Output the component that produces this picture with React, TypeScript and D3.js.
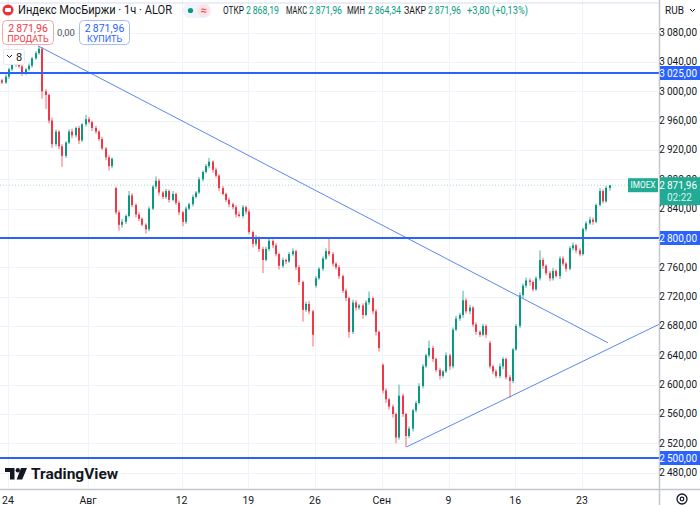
import * as d3 from "d3"

// close of every bar, left to right (~4 bars per trading day)
const closes = [
  3015, 3012, 3020, 3030, 3036, 3040, 3034, 3025, 3030, 3035,
  3045, 3052, 3058, 3000, 2995, 2960, 2928, 2945, 2925, 2912,
  2930, 2945, 2940, 2950, 2933, 2955, 2962, 2958, 2950, 2945,
  2935, 2922, 2910, 2898, 2908, 2835, 2818, 2822, 2830, 2858,
  2845, 2832, 2826, 2818, 2812, 2840, 2870, 2878, 2862, 2856,
  2864, 2852, 2860, 2848, 2835, 2822, 2840, 2846, 2856, 2862,
  2880, 2890, 2898, 2904, 2893, 2885, 2868, 2860, 2852, 2846,
  2842, 2832, 2830, 2842, 2836, 2808, 2792, 2800, 2785, 2770,
  2785, 2796, 2790, 2778, 2762, 2770, 2768, 2778, 2782, 2760,
  2740, 2702, 2710, 2700, 2668, 2745, 2758, 2772, 2782, 2778,
  2765, 2760, 2748, 2728, 2718, 2672, 2712, 2705, 2708, 2695,
  2712, 2718, 2700, 2672, 2650, 2592, 2580, 2570, 2560, 2528,
  2585, 2560, 2530, 2540, 2565, 2575, 2598, 2625, 2640, 2650,
  2635, 2620, 2612, 2618, 2640, 2625, 2675, 2690, 2695, 2715,
  2700, 2705, 2682, 2672, 2668, 2680, 2668, 2625, 2618, 2612,
  2625, 2635, 2610, 2605, 2648, 2680, 2722, 2735, 2742, 2740,
  2730, 2745, 2770, 2762, 2752, 2745, 2755, 2748, 2772, 2765,
  2758, 2786, 2790, 2783, 2778, 2812, 2820, 2825, 2822, 2845,
  2864, 2850, 2868.19, 2871.96,
]

// wick length above / below the body, in points
const upWick = [
  3, 2, 3, 2, 3, 4, 2, 3, 2, 3,
  2, 3, 4, 2, 3, 2, 4, 3, 2, 3,
  2, 3, 4, 2, 3, 2, 6, 3, 2, 3,
  2, 3, 2, 3, 2, 2, 3, 4, 2, 6,
  3, 2, 3, 2, 2, 3, 2, 6, 3, 2,
  3, 2, 4, 2, 3, 2, 3, 2, 3, 2,
  3, 2, 3, 5, 2, 3, 2, 3, 2, 3,
  2, 3, 4, 3, 2, 3, 2, 4, 2, 3,
  3, 4, 2, 3, 2, 3, 2, 3, 4, 2,
  3, 2, 3, 4, 2, 3, 2, 3, 4, 18,
  3, 2, 3, 2, 3, 2, 4, 3, 2, 3,
  3, 9, 2, 3, 2, 2, 3, 2, 3, 2,
  15, 3, 2, 3, 2, 3, 4, 3, 2, 10,
  3, 2, 3, 2, 4, 2, 3, 4, 3, 13,
  3, 4, 2, 3, 2, 3, 2, 3, 2, 3,
  4, 3, 2, 3, 2, 3, 4, 3, 4, 3,
  2, 3, 13, 3, 2, 3, 4, 2, 3, 3,
  2, 3, 4, 2, 3, 2, 3, 4, 3, 2,
  4, 2, 3, 0,
]
const downWick = [
  3, 2, 2, 3, 2, 3, 2, 4, 3, 2,
  3, 2, 2, 10, 19, 4, 5, 3, 4, 15,
  3, 2, 4, 3, 5, 2, 3, 2, 4, 3,
  3, 2, 4, 6, 3, 3, 8, 4, 3, 2,
  3, 4, 3, 2, 6, 3, 2, 3, 4, 3,
  3, 4, 2, 3, 4, 6, 3, 2, 3, 2,
  2, 3, 2, 3, 4, 3, 4, 2, 3, 4,
  3, 4, 2, 3, 4, 3, 5, 3, 4, 18,
  2, 3, 4, 3, 5, 3, 4, 2, 3, 4,
  4, 16, 3, 4, 16, 3, 2, 3, 2, 3,
  4, 3, 4, 3, 4, 8, 3, 4, 3, 5,
  2, 3, 4, 5, 5, 4, 5, 4, 5, 8,
  3, 4, 15, 3, 4, 3, 2, 3, 2, 3,
  4, 3, 5, 3, 2, 5, 3, 2, 3, 4,
  3, 4, 3, 4, 3, 2, 4, 3, 4, 3,
  3, 4, 3, 23, 3, 2, 3, 4, 3, 5,
  3, 2, 3, 4, 3, 4, 3, 2, 4, 3,
  4, 2, 3, 4, 3, 2, 3, 2, 4, 2,
  2, 3, 2, 3.85,
]

const firstOpen = 3010
// bars that opened with a gap
const gapIndex = [35, 95, 115, 147]
const gapOpen = [2868, 2735, 2627, 2657]

const priceTicks = [2480, 2520, 2560, 2600, 2640, 2680, 2720, 2760, 2800, 2840, 2880, 2920, 2960, 3000, 3040, 3080]
const dayTicks = [3, 27, 55, 75, 95, 115, 135, 155, 175]
const dayLabels = ["24", "Авг", "12", "19", "26", "Сен", "9", "16", "23"]

const levels = [3025, 2800, 2500]
// trend lines: [bar index, price]
const trendDown = [[12, 3062], [182.8, 2657]]
const trendUp = [[122.4, 2515], [198.4, 2683]]

const ohlcLabels = ["ОТКР", "МАКС", "МИН", "ЗАКР"]
const ohlcValues = [2868.19, 2871.96, 2864.34, 2871.96]
const change = 3.8
const changePct = 0.13
const lastPrice = 2871.96

const W = 700, H = 505
const PW = 659, PH = 489
const GREEN = "#089981", RED = "#f23645", BLUE = "#2962ff", TEXT = "#131722"
const FONT = "Roboto, 'Noto Sans', sans-serif"

const fmt = (v: number) => d3.format(",.2f")(v).replace(/,/g, "\u2009").replace(".", ",")
const dec = (v: number) => d3.format(".2f")(v).replace(".", ",")

// header row layout: x and width of each label / value
const legendLabelX = [223, 286, 347, 404]
const legendLabelW = [21, 21, 18, 22]
const legendValueX = [246, 309, 368, 428]

export default function App() {
  const x = d3.scaleLinear().domain([0, closes.length - 1]).range([-2, 608.7])
  const y = d3.scaleLinear().domain([2457.7, 3124.5]).range([PH, 0])

  const candles = closes.map((c, i) => {
    const g = gapIndex.indexOf(i)
    const o = i === 0 ? firstOpen : g >= 0 ? gapOpen[g] : closes[i - 1]
    return { i, o, c, h: Math.max(o, c) + upWick[i], l: Math.min(o, c) - downWick[i] }
  })

  const line = d3.line<number[]>().x(d => x(d[0])).y(d => y(d[1]))
  // extend the rising line to the price axis
  const slope = (trendUp[1][1] - trendUp[0][1]) / (trendUp[1][0] - trendUp[0][0])
  const upEnd = x.invert(PW)
  const upPts = [trendUp[0], [upEnd, trendUp[0][1] + slope * (upEnd - trendUp[0][0])]]

  const ly = y(lastPrice)

  return (
    <svg width={W} height={H} style={{ display: "block", fontFamily: FONT }}>
      <style>{`body{margin:0}`}</style>
      <rect width={W} height={H} fill="#fff" />
      <defs>
        <clipPath id="plot"><rect x={0} y={0} width={PW} height={PH} /></clipPath>
      </defs>

      {/* grid */}
      <g stroke="#f0f3fa" strokeWidth={1}>
        {priceTicks.map(p => (
          <line key={p} x1={0} x2={PW} y1={Math.round(y(p)) + 0.5} y2={Math.round(y(p)) + 0.5} />
        ))}
        {dayTicks.map(i => (
          <line key={i} x1={Math.round(x(i)) + 0.5} x2={Math.round(x(i)) + 0.5} y1={0} y2={PH} />
        ))}
      </g>

      <g clipPath="url(#plot)">
        <line x1={0} x2={PW} y1={ly} y2={ly} stroke={GREEN} strokeOpacity={0.35} strokeDasharray="1 2" />
        {candles.map(d => {
          const cx = Math.round(x(d.i))
          const col = d.c >= d.o ? GREEN : RED
          const yt = y(Math.max(d.o, d.c)), yb = y(Math.min(d.o, d.c))
          return (
            <g key={d.i}>
              <line x1={cx + 1} x2={cx + 1} y1={y(d.h)} y2={y(d.l)} stroke={col} strokeOpacity={0.75} />
              <rect x={cx} y={yt} width={2} height={Math.max(1, yb - yt)} fill={col} />
            </g>
          )
        })}
        <path d={line(trendDown as number[][]) || ""} stroke="#5b87f2" strokeWidth={1} fill="none" />
        <path d={line(upPts as number[][]) || ""} stroke="#5b87f2" strokeWidth={1} fill="none" />
        {levels.map(p => (
          <line key={p} x1={0} x2={PW} y1={Math.round(y(p))} y2={Math.round(y(p))} stroke={BLUE} strokeWidth={2} />
        ))}
      </g>

      {/* frame */}
      <line x1={0} x2={PW} y1={3} y2={3} stroke="#d6dcef" />
      <line x1={PW + 0.5} x2={PW + 0.5} y1={0} y2={H} stroke="#c4c7cf" strokeWidth={1.5} />
      <line x1={0} x2={W} y1={PH + 0.5} y2={PH + 0.5} stroke="#c4c7cf" strokeWidth={1.5} />

      {/* price axis */}
      <g fontSize={10} fill={TEXT} textAnchor="end">
        {priceTicks.map(p => (
          <text key={p} x={697} y={y(p)} dominantBaseline="central">{fmt(p)}</text>
        ))}
      </g>
      {levels.map(p => (
        <g key={p}>
          <rect x={PW + 1} y={Math.round(y(p)) - 7} width={W - PW - 1} height={14} fill={BLUE} />
          <text x={697} y={Math.round(y(p))} fontSize={10} fill="#fff" textAnchor="end" dominantBaseline="central">{fmt(p)}</text>
        </g>
      ))}
      <rect x={PW + 1} y={ly - 8} width={W - PW - 1} height={28} fill="#22ab94" />
      <text x={697} y={ly} fontSize={10} fill="#fff" textAnchor="end" dominantBaseline="central">{fmt(lastPrice)}</text>
      <text x={667} y={ly + 12} fontSize={10} fill="#d9f3ee" dominantBaseline="central">02:22</text>
      <rect x={628} y={ly - 7} width={30} height={14} fill="#22ab94" />
      <text x={643} y={ly} fontSize={9} fill="#fff" textAnchor="middle" dominantBaseline="central" textLength={25} lengthAdjust="spacingAndGlyphs">IMOEX</text>

      <text x={665} y={10} fontSize={10} fill={TEXT} dominantBaseline="central">RUB</text>
      <path d="M690 9 l2.5 2.5 l2.5 -2.5" stroke={TEXT} fill="none" strokeWidth={1} />

      {/* time axis */}
      <g fontSize={10.5} fill={TEXT} textAnchor="middle">
        {dayTicks.map((i, k) => (
          <text key={i} x={x(i)} y={500} dominantBaseline="central">{dayLabels[k]}</text>
        ))}
      </g>
      <circle cx={682} cy={499} r={5} stroke={TEXT} strokeWidth={1.3} fill="none" />
      <circle cx={682} cy={499} r={1.8} stroke={TEXT} strokeWidth={1.2} fill="none" />

      {/* legend */}
      <circle cx={8} cy={10} r={5.5} fill="#e8323c" />
      <rect x={5} y={8} width={6} height={4} rx={1} fill="#fff" />
      <text x={18} y={10} fontSize={12} fill={TEXT} dominantBaseline="central" textLength={154} lengthAdjust="spacingAndGlyphs">Индекс МосБиржи · 1ч · ALOR</text>
      <rect x={183} y={3} width={28} height={15} rx={7} fill="#f0f3fa" />
      <rect x={197} y={4} width={13} height={13} rx={6.5} fill="#fde3e6" />
      <circle cx={190.5} cy={10.5} r={2.6} fill={GREEN} />
      <text x={203.5} y={10.5} fontSize={11} fill={RED} textAnchor="middle" dominantBaseline="central">≈</text>
      <g fontSize={10} dominantBaseline="central">
        {ohlcLabels.map((l, k) => (
          <g key={l}>
            <text x={legendLabelX[k]} y={10} fill={TEXT} textLength={legendLabelW[k]} lengthAdjust="spacingAndGlyphs">{l}</text>
            <text x={legendValueX[k]} y={10} fill={GREEN} textLength={33} lengthAdjust="spacingAndGlyphs">{fmt(ohlcValues[k])}</text>
          </g>
        ))}
        <text x={467} y={10} fill={GREEN} textLength={61} lengthAdjust="spacingAndGlyphs">{`+${dec(change)} (+${dec(changePct)}%)`}</text>
      </g>

      {/* trade buttons */}
      <rect x={2.5} y={20.5} width={51} height={24} rx={4} fill="#fff" stroke="#f7a7ad" />
      <text x={28} y={28} fontSize={10.5} fill={RED} textAnchor="middle" dominantBaseline="central">{fmt(lastPrice)}</text>
      <text x={28} y={38.5} fontSize={9} fill={RED} textAnchor="middle" dominantBaseline="central">ПРОДАТЬ</text>
      <text x={66} y={32} fontSize={9.5} fill="#50535e" textAnchor="middle" dominantBaseline="central">0,00</text>
      <rect x={79.5} y={20.5} width={50} height={24} rx={4} fill="#fff" stroke="#a9bdf7" />
      <text x={104.5} y={28} fontSize={10.5} fill={BLUE} textAnchor="middle" dominantBaseline="central">{fmt(lastPrice)}</text>
      <text x={104.5} y={38.5} fontSize={9} fill={BLUE} textAnchor="middle" dominantBaseline="central">КУПИТЬ</text>

      <rect x={3.5} y={49.5} width={21} height={15} rx={2} fill="#fff" stroke="#e6e8ee" />
      <path d="M7 55 l2.5 2.5 l2.5 -2.5" stroke={TEXT} fill="none" strokeWidth={1} />
      <text x={16} y={57} fontSize={11} fill={TEXT} dominantBaseline="central">8</text>

      {/* logo */}
      <g fill={TEXT}>
        <path d="M5 468 h9.5 v11.5 h-4.5 v-7.5 h-5 z" />
        <circle cx={17.8} cy={470.2} r={2.2} />
        <path d="M21 468 h6 l-4.8 11.5 h-5.6 z" />
        <text x={31} y={474} fontSize={15.5} fontWeight={700} dominantBaseline="central">TradingView</text>
      </g>
    </svg>
  )
}
